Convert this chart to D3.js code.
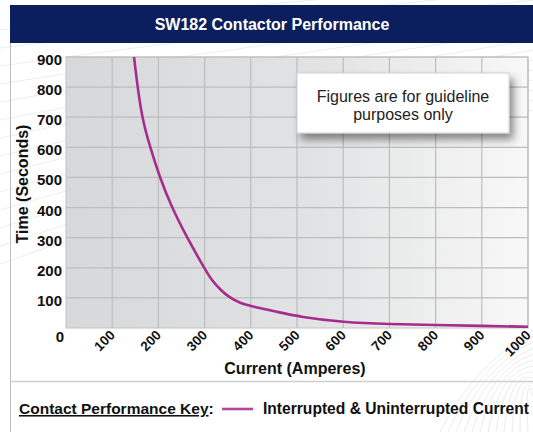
<!DOCTYPE html>
<html>
<head>
<meta charset="utf-8">
<script src="https://cdn.jsdelivr.net/npm/d3@7"></script>
<style>
  body { margin: 0; background: #fff; }
  svg { display: block; font-family: "Liberation Sans", Arial, sans-serif; }
</style>
</head>
<body>
<svg id="chart" width="533" height="432"></svg>
<script>
// values
const currentAmps = [140, 147, 154, 164, 181, 203, 229, 262, 299, 315, 335, 351, 377, 405, 456, 506, 600, 700, 800, 900, 1000];
const timeSecs    = [1010, 900, 813, 702, 605, 500, 400, 300, 200, 159, 126, 104, 82, 71, 54, 37, 19, 13, 10, 7, 4];
const xTicks = [100, 200, 300, 400, 500, 600, 700, 800, 900, 1000];
const yTicks = [100, 200, 300, 400, 500, 600, 700, 800, 900];

const W = 533, H = 432;
const plot = {left: 66, right: 528, top: 57, bottom: 328};
const FONT = '"Liberation Sans", Arial, sans-serif';
const svg = d3.select('#chart');
const defs = svg.append('defs');

// plot gradient
const grad = defs.append('linearGradient').attr('id', 'plotbg');
grad.append('stop').attr('offset', '0%').attr('stop-color', '#d7d8d9');
grad.append('stop').attr('offset', '55%').attr('stop-color', '#e2e3e4');
grad.append('stop').attr('offset', '100%').attr('stop-color', '#f8f8f8');

const shadow = defs.append('filter').attr('id', 'shadow')
  .attr('x', '-20%').attr('y', '-30%').attr('width', '150%').attr('height', '180%');
shadow.append('feDropShadow').attr('dx', 4).attr('dy', 6).attr('stdDeviation', 4)
  .attr('flood-color', '#000').attr('flood-opacity', 0.45);

// faint background swoosh lines
const bgLines = svg.append('g').attr('stroke', '#e8e8e8').attr('fill', 'none').attr('stroke-width', 0.8);
for (let i = 0; i < 14; i++) {
  bgLines.append('path').attr('d', `M0,${30 + i * 18} Q200,${10 + i * 14} 533,${-20 + i * 10}`);
}
const bgLines2 = svg.append('g').attr('stroke', '#e6e6e6').attr('fill', 'none').attr('stroke-width', 0.8);
for (let i = 0; i < 12; i++) {
  bgLines2.append('path').attr('d', `M${440 + i * 8},432 Q${470 + i * 5},370 533,${330 + i * 6}`);
}

// title bar
svg.append('rect').attr('x', 10).attr('y', 5).attr('width', W - 10).attr('height', 38).attr('fill', '#0b1f5e');
svg.append('text').attr('x', 272).attr('y', 30).attr('text-anchor', 'middle')
  .attr('fill', '#fff').attr('font-weight', 'bold').attr('font-size', 16)
  .text('SW182 Contactor Performance');

// panel borders
svg.append('line').attr('x1', 10.5).attr('x2', 10.5).attr('y1', 43).attr('y2', H).attr('stroke', '#bdbdbd');
svg.append('line').attr('x1', 10).attr('x2', W).attr('y1', 381.5).attr('y2', 381.5).attr('stroke', '#cfcfcf').attr('stroke-width', 1.5);

const x = d3.scaleLinear().domain([0, 1000]).range([plot.left, plot.right]);
const y = d3.scaleLinear().domain([0, 900]).range([plot.bottom, plot.top]);

svg.append('rect').attr('x', plot.left).attr('y', plot.top)
  .attr('width', plot.right - plot.left).attr('height', plot.bottom - plot.top)
  .attr('fill', 'url(#plotbg)').attr('stroke', '#c2c2c2');

// grid
const grid = svg.append('g').attr('stroke', '#bdbdbd').attr('stroke-width', 1.2);
grid.selectAll('line.v').data(xTicks).join('line').attr('class', 'v')
  .attr('x1', d => x(d)).attr('x2', d => x(d)).attr('y1', plot.top).attr('y2', plot.bottom);
grid.selectAll('line.h').data(yTicks).join('line').attr('class', 'h')
  .attr('x1', plot.left).attr('x2', plot.right).attr('y1', d => y(d)).attr('y2', d => y(d));

// y labels
const yAxis = d3.axisLeft(y).tickValues(yTicks).tickSize(0).tickPadding(4);
const yg = svg.append('g').attr('transform', `translate(${plot.left},0)`).call(yAxis);
yg.select('.domain').remove();
yg.selectAll('text').attr('font-size', 15).attr('font-weight', 'bold').attr('fill', '#111')
  .attr('font-family', FONT).attr('dy', '0.5em');
svg.append('text').attr('x', 64).attr('y', 342).attr('text-anchor', 'end')
  .attr('font-size', 15).attr('font-weight', 'bold').attr('fill', '#111').text('0');

// x labels
const xAxis = d3.axisBottom(x).tickValues(xTicks).tickSize(0).tickFormat(d3.format('d'));
const xg = svg.append('g').attr('transform', `translate(0,${plot.bottom})`).call(xAxis);
xg.select('.domain').remove();
xg.selectAll('text').attr('font-size', 13.5).attr('font-weight', 'bold').attr('fill', '#111')
  .attr('font-family', FONT)
  .attr('text-anchor', 'end').attr('dy', null).attr('y', 0)
  .attr('transform', 'translate(3,8) rotate(-45)');

// axis titles
svg.append('text').attr('x', 295).attr('y', 374).attr('text-anchor', 'middle')
  .attr('font-size', 16).attr('font-weight', 'bold').attr('fill', '#111').text('Current (Amperes)');
svg.append('text').attr('transform', 'translate(28,184) rotate(-90)').attr('text-anchor', 'middle')
  .attr('font-size', 16).attr('font-weight', 'bold').attr('fill', '#111').text('Time (Seconds)');

// curve
svg.append('clipPath').attr('id', 'clip').append('rect')
  .attr('x', plot.left).attr('y', plot.top).attr('width', plot.right - plot.left).attr('height', plot.bottom - plot.top);
const line = d3.line().x(d => x(d[0])).y(d => y(d[1])).curve(d3.curveBasis);
svg.append('path').datum(d3.zip(currentAmps, timeSecs))
  .attr('clip-path', 'url(#clip)')
  .attr('d', line).attr('fill', 'none').attr('stroke', '#a62c8f').attr('stroke-width', 2.6);

// note box
svg.append('rect').attr('x', 297).attr('y', 73).attr('width', 212).attr('height', 60)
  .attr('fill', '#fff').attr('stroke', '#d0d0d0').attr('filter', 'url(#shadow)');
svg.append('text').attr('x', 403).attr('y', 102).attr('text-anchor', 'middle')
  .attr('font-size', 16).attr('fill', '#222').text('Figures are for guideline');
svg.append('text').attr('x', 403).attr('y', 120).attr('text-anchor', 'middle')
  .attr('font-size', 16).attr('fill', '#222').text('purposes only');

// legend
const leg = svg.append('text').attr('x', 19).attr('y', 414)
  .attr('font-size', 15.5).attr('font-weight', 'bold').attr('fill', '#111');
leg.append('tspan').attr('text-decoration', 'underline').text('Contact Performance Key');
leg.append('tspan').text(':');
svg.append('line').attr('x1', 222).attr('x2', 253).attr('y1', 409).attr('y2', 409)
  .attr('stroke', '#b0479a').attr('stroke-width', 2.6);
svg.append('text').attr('x', 263).attr('y', 414)
  .attr('font-size', 15.6).attr('font-weight', 'bold').attr('fill', '#111')
  .text('Interrupted & Uninterrupted Current');
</script>
</body>
</html>
